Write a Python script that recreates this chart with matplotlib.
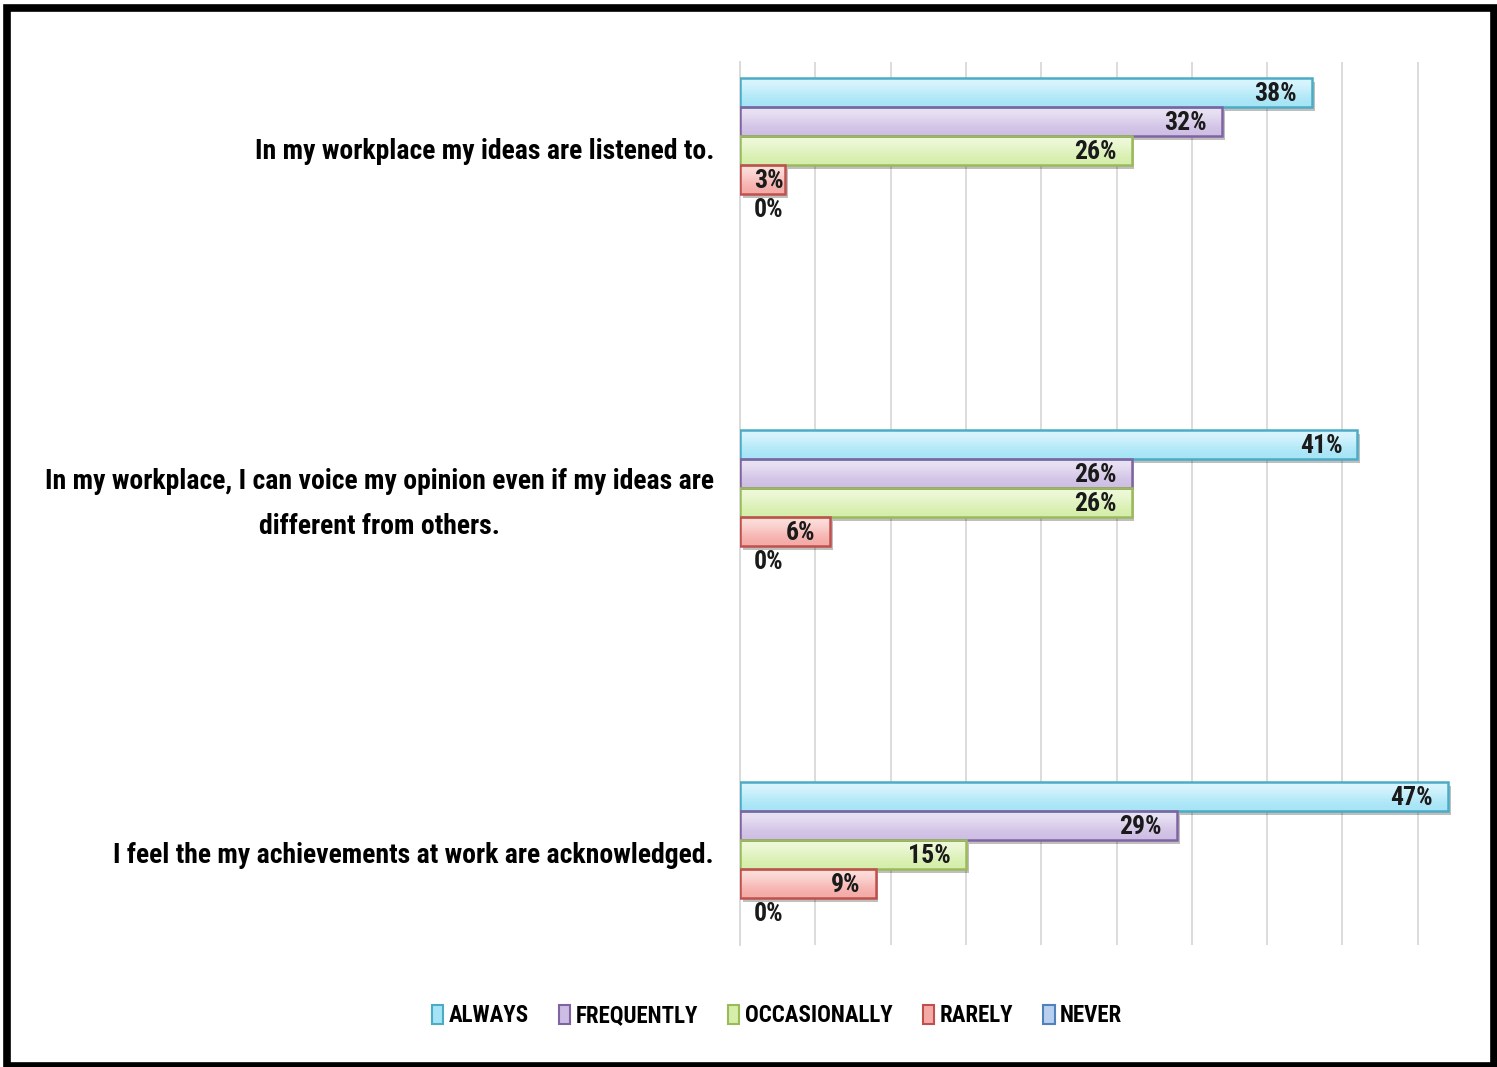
import numpy as np
import matplotlib
matplotlib.use("Agg")
from matplotlib import pyplot as plt
from matplotlib.patches import Patch, Rectangle
from matplotlib.transforms import ScaledTranslation
import matplotlib.patheffects as pe

plt.rcParams['font.family'] = ['Roboto Condensed', 'Liberation Sans Narrow', 'Roboto', 'DejaVu Sans']

questions = [
    "In my workplace my ideas are listened to.",
    "In my workplace, I can voice my opinion even if my ideas are\ndifferent from others.",
    "I feel the my achievements at work are acknowledged.",
]
series = ["ALWAYS", "FREQUENTLY", "OCCASIONALLY", "RARELY", "NEVER"]
always = [38, 41, 47]
frequently = [32, 26, 29]
occasionally = [26, 26, 15]
rarely = [3, 6, 9]
never = [0, 0, 0]
values = [always, frequently, occasionally, rarely, never]

# (top of gradient, bottom of gradient, edge)
colors = [
    ("#dcf6fe", "#a5e4f6", "#4bacc6"),
    ("#ebe4f4", "#cdbde4", "#8064a2"),
    ("#f0fadd", "#d5eeaa", "#9bbb59"),
    ("#fde0de", "#f4aaa6", "#c0504d"),
    ("#e2ecf8", "#b9cfee", "#4f81bd"),
]

fig = plt.figure(figsize=(14.97, 10.67), dpi=100)
W, H = 1497, 1067
ax = fig.add_axes([740 / W, 1 - 945 / H, (1493 - 740) / W, (945 - 62) / H])

h = 29 / 352
ypos = np.arange(len(questions))

for i, (vals, (c_top, c_bot, c_edge)) in enumerate(zip(values, colors)):
    for j, v in enumerate(vals):
        y = ypos[j] + (i - 2) * h
        if v > 0:
            bar = ax.barh(y, v, height=h, color=c_bot, edgecolor='none', zorder=2)[0]
            bar.set_path_effects([pe.SimplePatchShadow(offset=(2, -3), shadow_rgbFace='black', alpha=0.25),
                                  pe.Normal()])
            grad = np.array([[matplotlib.colors.to_rgb(c_top)],
                             [matplotlib.colors.to_rgb(c_bot)]])
            im = ax.imshow(grad, extent=(0, v, y + h / 2, y - h / 2), aspect='auto',
                           interpolation='bicubic', origin='upper', zorder=3)
            im.set_clip_path(bar)
            ax.barh(y, v, height=h, color='none', edgecolor=c_edge, linewidth=1.8, zorder=4)
        lx = max(v - 1.0, 2.9)
        ax.text(lx, y + 0.005, f"{v}%", ha='right', va='center', fontsize=18.5,
                fontweight='bold', color='#1a1a1a', zorder=5)

ax.set_xlim(0, 50)
ax.set_ylim(2.257, -0.251)
ax.set_xticks(np.arange(0, 50, 5))
ax.xaxis.grid(True, color='#d9d9d9', linewidth=1.3, zorder=0)
ax.tick_params(axis='x', length=0, labelbottom=False)
ax.set_yticks(ypos)
ax.set_yticklabels([])
for s in ['top', 'right', 'bottom']:
    ax.spines[s].set_visible(False)
ax.spines['left'].set_color('#d9d9d9')
ax.spines['left'].set_linewidth(1.3)
ax.tick_params(axis='y', length=0)
ax.set_axisbelow(True)

# question labels to the left of the bars, centred on each group
label_tr = ax.get_yaxis_transform() + ScaledTranslation(-26 / 100, 0, fig.dpi_scale_trans)
for j, q in enumerate(questions):
    ax.text(0, ypos[j] + 0.004, q, transform=label_tr, ha='right', va='center',
            multialignment='center', fontsize=20, fontweight='bold', linespacing=1.85)

handles = [Patch(facecolor=c_bot, edgecolor=c_edge, linewidth=1.5) for _, c_bot, c_edge in colors]
fig.legend(handles, series, loc='center', bbox_to_anchor=(777 / W, 1 - 1016 / H), ncol=5,
           frameon=False, prop={'weight': 'bold', 'size': 16.5},
           handlelength=0.5, handleheight=0.85, handletextpad=0.25, columnspacing=1.3)

# black frame round the whole chart
fig.patches.append(Rectangle((7 / W, 1 - 1066 / H), (1494 - 7) / W, (1066 - 7.5) / H,
                             transform=fig.transFigure, fill=False, edgecolor='black',
                             linewidth=5.5, zorder=10))

fig.savefig("out.png", dpi=100)
